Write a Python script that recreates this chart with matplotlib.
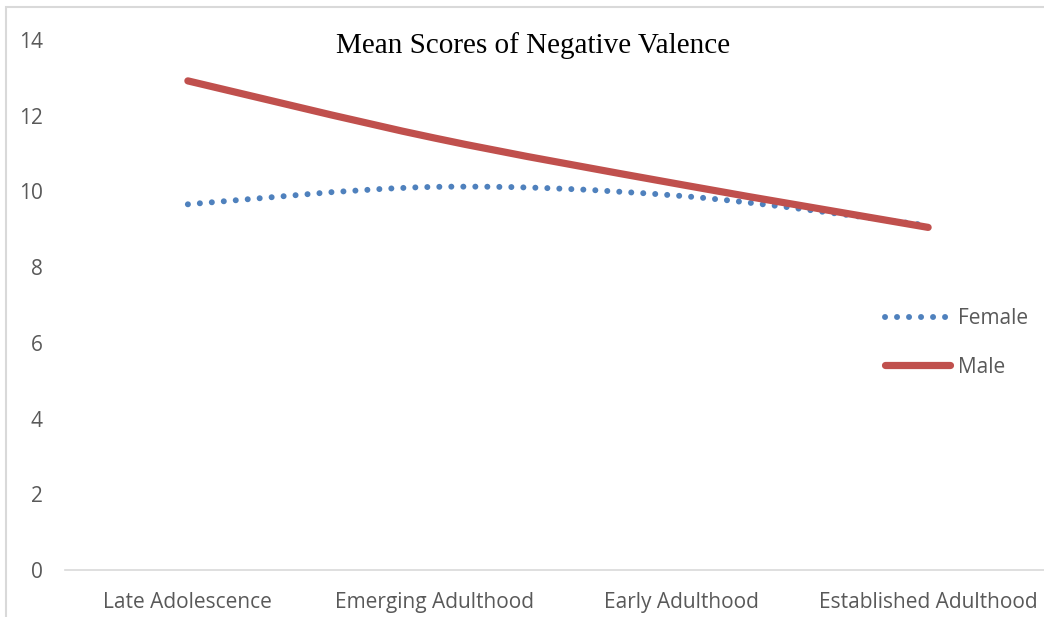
import numpy as np
import matplotlib.pyplot as plt
from matplotlib.path import Path
from matplotlib.patches import PathPatch, Rectangle
from matplotlib.lines import Line2D

# life stages and mean negative valence scores
stages = ['Late Adolescence', 'Emerging Adulthood', 'Early Adulthood', 'Established Adulthood']
female = [9.66, 10.12, 9.88, 9.1]
male = [12.92, 11.41, 10.18, 9.05]

female_color = '#4f81bd'
male_color = '#c0504d'
text_gray = '#595959'
line_gray = '#d9d9d9'


def smooth_path(xs, ys):
    """Cubic Bezier path through the points, like a spreadsheet 'smoothed line'."""
    pts = np.column_stack([xs, ys]).astype(float)
    n = len(pts)
    verts = [pts[0]]
    codes = [Path.MOVETO]
    for i in range(n - 1):
        p0 = pts[max(i - 1, 0)]
        p1 = pts[i]
        p2 = pts[i + 1]
        p3 = pts[min(i + 2, n - 1)]
        c1 = p1 + (p2 - p0) / 6.0
        c2 = p2 - (p3 - p1) / 6.0
        verts += [c1, c2, p2]
        codes += [Path.CURVE4] * 3
    return Path(verts, codes)


fig = plt.figure(figsize=(10.44, 6.17), dpi=100)
ax = fig.add_axes([64.5 / 1044, 47 / 617, 987 / 1044, 530 / 617])

x = np.arange(len(stages))
dots = (0, (0.01, 2.0))

fem = PathPatch(smooth_path(x, female), fill=False, edgecolor=female_color,
                lw=4.3, linestyle=dots, capstyle='round', zorder=3)
ax.add_patch(fem)
mal = PathPatch(smooth_path(x, male), fill=False, edgecolor=male_color,
                lw=5.2, capstyle='round', joinstyle='round', zorder=4)
ax.add_patch(mal)

ax.set_xlim(-0.5, 3.5)
ax.set_ylim(0, 14)
ax.set_yticks(range(0, 15, 2))
ax.set_xticks(x)
ax.set_xticklabels(stages)
ax.tick_params(axis='both', length=0, labelsize=15, labelcolor=text_gray)
ax.tick_params(axis='y', pad=15.5)
ax.tick_params(axis='x', pad=16)
for lab in ax.get_xticklabels() + ax.get_yticklabels():
    lab.set_fontfamily('Open Sans')

for side in ['top', 'right', 'left']:
    ax.spines[side].set_visible(False)
ax.spines['bottom'].set_color(line_gray)
ax.spines['bottom'].set_linewidth(1.2)

fig.text(533 / 1044, 1 - 46 / 617, 'Mean Scores of Negative Valence',
         ha='center', va='center', fontsize=21, family='Liberation Serif', color='black')

handles = [
    Line2D([], [], color=female_color, lw=4.3, linestyle=dots,
           dash_capstyle='round'),
    Line2D([], [], color=male_color, lw=5.2, solid_capstyle='round'),
]
leg = fig.legend(handles, ['Female', 'Male'], loc='center left',
                 bbox_to_anchor=(866 / 1044, 1 - 343 / 617), frameon=False,
                 handlelength=3.15, handletextpad=0.35, labelspacing=1.3,
                 prop={'family': 'Open Sans', 'size': 15})
for t in leg.get_texts():
    t.set_color(text_gray)

# outer chart border
fig.add_artist(Rectangle((6 / 1044, -0.1), 1.2, 1.1 - 7 / 617, transform=fig.transFigure,
                         fill=False, edgecolor=line_gray, lw=1.5))

fig.savefig('out.png', dpi=100)
